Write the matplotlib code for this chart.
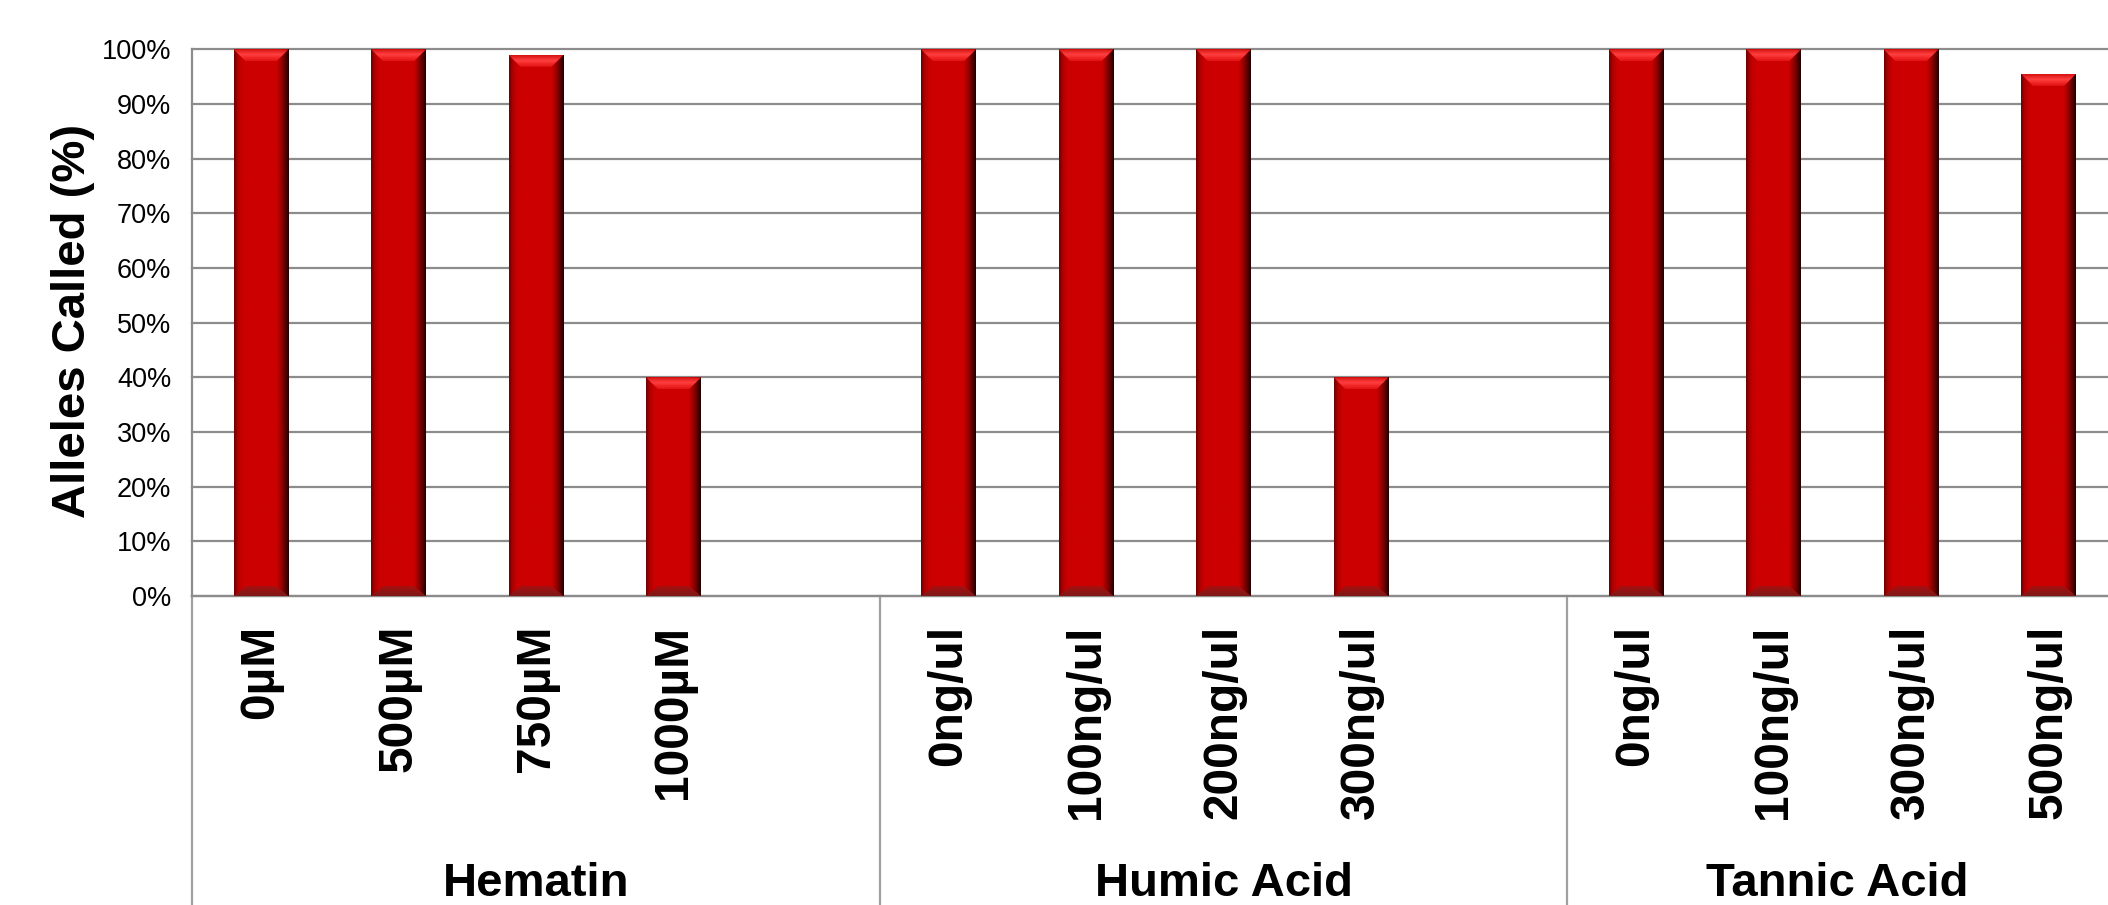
import numpy as np
import matplotlib
matplotlib.use("Agg")
import matplotlib.pyplot as plt
from matplotlib.colors import LinearSegmentedColormap
from matplotlib.patches import Polygon
from matplotlib.ticker import PercentFormatter
import matplotlib.transforms as mtransforms

plt.rcParams['font.family'] = ['Liberation Sans', 'DejaVu Sans']

groups = ["Hematin", "Humic Acid", "Tannic Acid"]
hematin_levels = ["0µM", "500µM", "750µM", "1000µM"]
hematin_called = [1.00, 1.00, 0.99, 0.40]
humic_levels = ["0ng/ul", "100ng/ul", "200ng/ul", "300ng/ul"]
humic_called = [1.00, 1.00, 1.00, 0.40]
tannic_levels = ["0ng/ul", "100ng/ul", "300ng/ul", "500ng/ul"]
tannic_called = [1.00, 1.00, 1.00, 0.955]

levels = [hematin_levels, humic_levels, tannic_levels]
called = [hematin_called, humic_called, tannic_called]
SLOTS = 5  # four concentrations plus an empty slot per group

W, H, DPI = 2108, 905, 100
fig = plt.figure(figsize=(W / DPI, H / DPI), dpi=DPI)
# plot area runs past the right edge of the figure on purpose
ax = fig.add_axes([192.3 / W, 309 / H, 2062.5 / W, 546.7 / H])

xs, ys, labels = [], [], []
for g in range(len(groups)):
    for i, (lab, v) in enumerate(zip(levels[g], called[g])):
        xs.append(g * SLOTS + i)
        ys.append(v)
        labels.append(lab)

ax.set_xlim(-0.5, len(groups) * SLOTS - 0.5)
ax.set_ylim(0, 1)

bar_w = 0.4
bars = ax.bar(xs, ys, width=bar_w, color="#cc0000", zorder=3, linewidth=0)

# beveled look: side shading, light top edge, dark bottom edge
side_cmap = LinearSegmentedColormap.from_list("side", [
    (0.0, "#6e0000"), (0.07, "#b00000"), (0.16, "#cc0000"),
    (0.78, "#cc0000"), (0.88, "#8a0000"), (1.0, "#1e0000")])
top_cmap = LinearSegmentedColormap.from_list("top", [
    (0.0, "#d41010"), (0.45, "#ff4040"), (0.75, "#f02424"), (1.0, "#e01414")])
bot_cmap = LinearSegmentedColormap.from_list("bot", [
    (0.0, "#a81010"), (1.0, "#7e1818")])

px_x = (ax.get_xlim()[1] - ax.get_xlim()[0]) / 2062.5
px_y = 1.0 / 546.7
bx, by = 12 * px_x, 12 * px_y
by_bot = 10 * px_y
grad = np.linspace(0, 1, 256)

for b in bars:
    x0, h = b.get_x(), b.get_height()
    x1 = x0 + b.get_width()
    im = ax.imshow(grad[None, :], cmap=side_cmap, extent=(x0, x1, 0, h),
                   aspect="auto", zorder=4, interpolation="bilinear")
    im.set_clip_path(b)
    top = Polygon([(x0, h), (x1, h), (x1 - bx, h - by), (x0 + bx, h - by)],
                  closed=True, facecolor="none", edgecolor="none", zorder=5)
    ax.add_patch(top)
    im_t = ax.imshow(grad[:, None], cmap=top_cmap, extent=(x0, x1, h - by, h),
                     aspect="auto", zorder=5, interpolation="bilinear", origin="upper")
    im_t.set_clip_path(top)
    bot = Polygon([(x0, 0), (x1, 0), (x1 - bx, by_bot), (x0 + bx, by_bot)],
                  closed=True, facecolor="none", edgecolor="none", zorder=5)
    ax.add_patch(bot)
    im_b = ax.imshow(grad[:, None], cmap=bot_cmap, extent=(x0, x1, 0, by_bot),
                     aspect="auto", zorder=5, interpolation="bilinear", origin="upper")
    im_b.set_clip_path(bot)

ax.set_xlim(-0.5, len(groups) * SLOTS - 0.5)
ax.set_ylim(0, 1)

grid_c = "#8c8c8c"
ax.set_yticks(np.arange(0, 1.01, 0.1))
ax.yaxis.set_major_formatter(PercentFormatter(1.0, decimals=0))
ax.tick_params(axis="y", length=0, pad=15, labelsize=19.5, colors="black")
ax.set_xticks([])
ax.grid(axis="y", color=grid_c, linewidth=1.6, zorder=0)
ax.set_axisbelow(True)
for gl in ax.get_ygridlines():
    gl.set_clip_on(False)
for s in ["top", "right"]:
    ax.spines[s].set_visible(False)
for s in ["left", "bottom"]:
    ax.spines[s].set_color(grid_c)
    ax.spines[s].set_linewidth(1.6)

# group separators below the axis
sep = mtransforms.blended_transform_factory(ax.transData, ax.transAxes)
for g in range(len(groups) + 1):
    xd = g * SLOTS - 0.5
    ax.plot([xd, xd], [0, -1], transform=sep, color="#a0a0a0",
            linewidth=1.6, clip_on=False, zorder=1)

for x, lab in zip(xs, labels):
    ax.annotate(lab, xy=(x, 0), xycoords=sep, xytext=(0, -20.5),
                textcoords="offset points", rotation=90, ha="center", va="top",
                fontsize=34.5, fontweight="bold")

fig_right = ax.transData.inverted().transform(fig.transFigure.transform((1, 0)))[0]
for g, name in enumerate(groups):
    lo = g * SLOTS - 0.5
    hi = min(lo + SLOTS, fig_right)
    ax.annotate(name, xy=((lo + hi) / 2, 0), xycoords=sep, xytext=(0, -216),
                textcoords="offset points", ha="center", va="baseline",
                fontsize=34, fontweight="bold")

fig.text(72.6 / W, 1 - 320.5 / H, "Alleles Called (%)", rotation=90,
         ha="center", va="center", fontsize=34, fontweight="bold")

fig.savefig("out.png", dpi=DPI, facecolor="white")
